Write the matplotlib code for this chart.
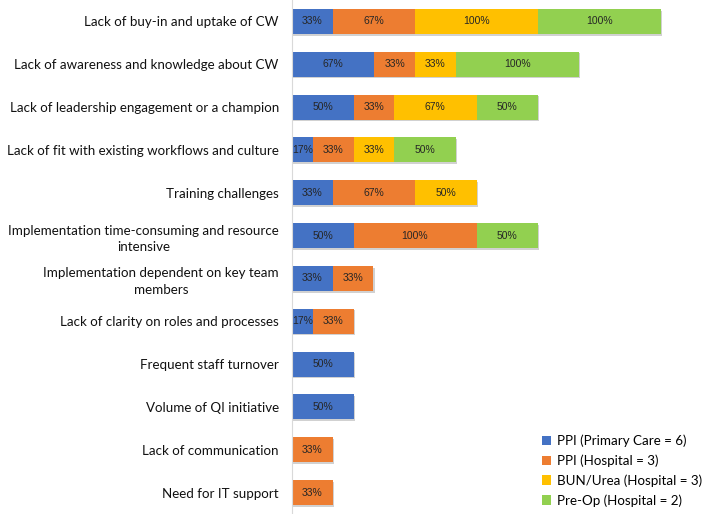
import matplotlib.pyplot as plt
import matplotlib.patheffects as pe
import numpy as np

categories = [
    "Lack of buy-in and uptake of CW",
    "Lack of awareness and knowledge about CW",
    "Lack of leadership engagement or a champion",
    "Lack of fit with existing workflows and culture",
    "Training challenges",
    "Implementation time-consuming and resource\nintensive",
    "Implementation dependent on key team\nmembers",
    "Lack of clarity on roles and processes",
    "Frequent staff turnover",
    "Volume of QI initiative",
    "Lack of communication",
    "Need for IT support",
]
series_names = ["PPI (Primary Care = 6)", "PPI (Hospital = 3)",
                "BUN/Urea (Hospital = 3)", "Pre-Op (Hospital = 2)"]
ppi_primary = [33, 67, 50, 17, 33, 50, 33, 17, 50, 50, 0, 0]
ppi_hospital = [67, 33, 33, 33, 67, 100, 33, 33, 0, 0, 33, 33]
bun_urea = [100, 33, 67, 33, 50, 0, 0, 0, 0, 0, 0, 0]
pre_op = [100, 100, 50, 50, 0, 50, 0, 0, 0, 0, 0, 0]
colors = ["#4472C4", "#ED7D31", "#FFC000", "#92D050"]

plt.rcParams['font.family'] = ['Lato', 'DejaVu Sans']
fig = plt.figure(figsize=(7.09, 5.14), dpi=100)
ax = fig.add_axes([292/709, 0, 1 - 292/709, 1])

y = np.arange(len(categories))
left = np.zeros(len(categories))
shadow = [pe.SimplePatchShadow(offset=(1, -1.2), shadow_rgbFace='#999999', alpha=0.45), pe.Normal()]
for vals, col, name in zip([ppi_primary, ppi_hospital, bun_urea, pre_op], colors, series_names):
    vals = np.array(vals, dtype=float)
    ax.barh(y, vals, left=left, height=0.58, color=col, label=name, path_effects=shadow)
    for yi, v, l in zip(y, vals, left):
        if v > 0:
            ax.text(l + v / 2, yi, f"{int(v)}%", ha='center', va='center', fontsize=7.5,
                    color='#262626', family=['Liberation Sans'])
    left += vals

ax.set_ylim(len(categories) - 0.5, -0.5)
ax.set_xlim(0, 339)
ax.set_yticks(y)
ax.set_yticklabels(categories, fontsize=9.6, color='#111111', multialignment='center',
                   linespacing=1.45)
ax.tick_params(axis='y', length=0, pad=9.5)
ax.set_xticks([])
for s in ['top', 'right', 'bottom']:
    ax.spines[s].set_visible(False)
ax.spines['left'].set_color('#d9d9d9')
ax.spines['left'].set_linewidth(0.8)

leg = ax.legend(loc='lower right', bbox_to_anchor=(1.0, 0.0), frameon=False, fontsize=9.6,
                handlelength=0.7, handleheight=0.7, handletextpad=0.4, labelspacing=0.55,
                borderaxespad=0.15)
for h in leg.legend_handles:
    h.set_path_effects([])

fig.savefig("out.png", dpi=100)
